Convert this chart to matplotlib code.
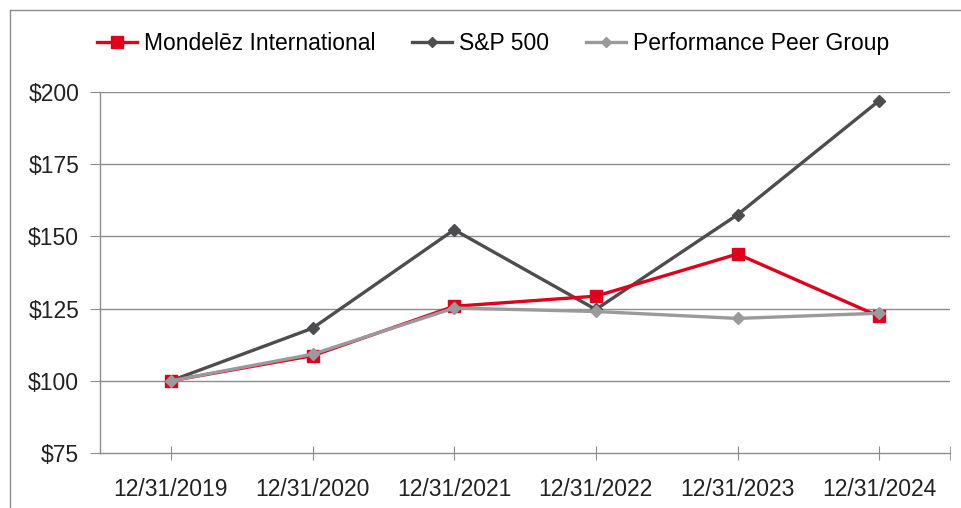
import matplotlib
matplotlib.use("Agg")
import matplotlib.pyplot as plt
from matplotlib.lines import Line2D

plt.rcParams['font.family'] = ['Liberation Sans', 'DejaVu Sans']

# Data
dates = ["12/31/2019", "12/31/2020", "12/31/2021", "12/31/2022", "12/31/2023", "12/31/2024"]
mondelez = [100, 108.7, 125.8, 129.3, 143.9, 122.3]
sp500 = [100, 118.2, 152.3, 124.7, 157.5, 197.0]
peer = [100, 109.2, 125.2, 124.0, 121.6, 123.4]
yticks = [75, 100, 125, 150, 175, 200]

red = "#e0001b"
dark = "#4d4d4f"
light = "#9a9a9c"
axis_grey = "#8c8c8c"
fs = 16.5

fig = plt.figure(figsize=(9.61, 5.08), dpi=100)
ax = fig.add_axes([100 / 961, 55 / 508, 850 / 961, 361 / 508])

x = list(range(len(dates)))

# Plot order so the peer group sits on top, like the original
ax.plot(x, sp500, color=dark, lw=2.4, marker="D", ms=6, zorder=3)
ax.plot(x, mondelez, color=red, lw=2.4, marker="s", ms=8, zorder=4)
ax.plot(x, peer, color=light, lw=2.4, marker="D", ms=6, zorder=5)

ax.set_xlim(-0.5, len(dates) - 0.5)
ax.set_ylim(75, 200)
ax.set_yticks(yticks)
ax.set_yticklabels(["${}".format(v) for v in yticks])
ax.set_xticks(x)
ax.set_xticklabels(dates)
ax.set_xticks([len(dates) - 0.5], minor=True)

for v in yticks[1:]:
    ax.axhline(v, color=axis_grey, lw=1, zorder=1)

for s in ["top", "right"]:
    ax.spines[s].set_visible(False)
for s in ["left", "bottom"]:
    ax.spines[s].set_color(axis_grey)
    ax.spines[s].set_linewidth(1)

ax.tick_params(axis="y", length=7, color=axis_grey, labelsize=fs, pad=8, labelcolor="#222222")
ax.tick_params(axis="x", which="both", direction="inout", length=10, color=axis_grey,
               labelsize=fs, pad=13, labelcolor="#222222")

handles = [
    Line2D([], [], color=red, lw=2.4, marker="s", ms=8),
    Line2D([], [], color=dark, lw=2.4, marker="D", ms=5),
    Line2D([], [], color=light, lw=2.4, marker="D", ms=5),
]
fig.legend(handles, ["Mondelēz International", "S&P 500", "Performance Peer Group"],
           loc="center", bbox_to_anchor=(0.513, 0.915), ncol=3, frameon=False,
           fontsize=fs, handlelength=1.75, handletextpad=0.3, columnspacing=1.6)

# thin frame around the figure (cut off at the right/bottom edge)
fig.add_artist(Line2D([10 / 961, 10 / 961], [0, 1 - 10 / 508], transform=fig.transFigure,
                      color=axis_grey, lw=1))
fig.add_artist(Line2D([10 / 961, 1], [1 - 10 / 508, 1 - 10 / 508], transform=fig.transFigure,
                      color=axis_grey, lw=1))

fig.savefig("out.png", dpi=100)
